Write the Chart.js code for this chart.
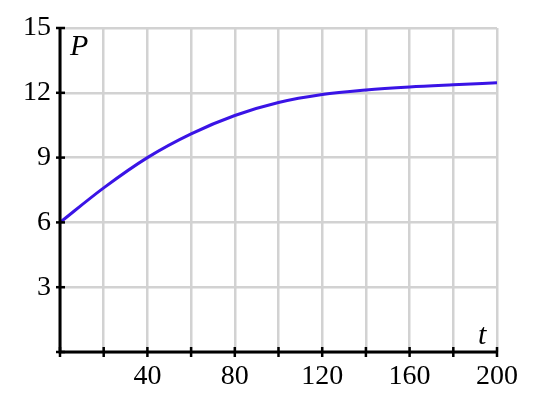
<!DOCTYPE html>
<html>
<head>
<meta charset="utf-8">
<script src="https://cdn.jsdelivr.net/npm/chart.js@4/dist/chart.umd.min.js"></script>
<style>
  html, body { margin: 0; padding: 0; background: #fff; }
  #wrap { width: 534px; height: 400px; }
</style>
</head>
<body>
<div id="wrap"><canvas id="chart1"></canvas></div>
<script>
// values
const tValues = [0, 20, 40, 60, 80, 100, 120, 140, 160, 180, 200];
const pValues = [6.0, 7.6, 9.0, 10.1, 10.95, 11.55, 11.92, 12.13, 12.27, 12.37, 12.46];
const xTickLabels = [40, 80, 120, 160, 200];
const yTickLabels = [3, 6, 9, 12, 15];

const serif = '"Liberation Serif", "DejaVu Serif", serif';

// small black ticks that cross both axes, plus the P and t labels
const axisMarks = {
    id: 'axisMarks',
    afterDraw(chart) {
        const ctx = chart.ctx;
        const xs = chart.scales.x, ys = chart.scales.y;
        const x0 = xs.getPixelForValue(0), y0 = ys.getPixelForValue(0);
        ctx.save();
        ctx.strokeStyle = '#000';
        ctx.lineWidth = 3;
        ctx.beginPath();
        ctx.moveTo(x0, ys.getPixelForValue(15));
        ctx.lineTo(x0, y0);
        ctx.lineTo(xs.getPixelForValue(200), y0);
        ctx.stroke();
        ctx.lineWidth = 2.5;
        xs.ticks.forEach((t) => {
            const px = xs.getPixelForValue(t.value);
            ctx.beginPath();
            ctx.moveTo(px, y0 - 5);
            ctx.lineTo(px, y0 + 5);
            ctx.stroke();
        });
        ys.ticks.forEach((t) => {
            const py = ys.getPixelForValue(t.value);
            ctx.beginPath();
            ctx.moveTo(x0 - 4, py);
            ctx.lineTo(x0 + 5, py);
            ctx.stroke();
        });
        ctx.fillStyle = '#000';
        ctx.font = 'italic 30px ' + serif;
        ctx.textBaseline = 'alphabetic';
        ctx.fillText('P', x0 + 10, ys.getPixelForValue(15) + 27);
        ctx.fillText('t', xs.getPixelForValue(200) - 19, y0 - 8);
        ctx.restore();
    }
};

const ctx1 = document.getElementById('chart1').getContext('2d');
const chart1 = new Chart(ctx1, {
    type: 'line',
    data: {
        labels: tValues,
        datasets: [
            {
                data: tValues.map((t, i) => ({x: t, y: pValues[i]})),
                borderColor: '#3a14e6',
                borderWidth: 3,
                pointRadius: 0,
                cubicInterpolationMode: 'monotone',
                fill: false
            }
        ]
    },
    options: {
        responsive: true,
        maintainAspectRatio: false,
        animation: false,
        layout: { padding: { left: 0, right: 37, top: 28, bottom: 0 } },
        plugins: { legend: { display: false }, tooltip: { enabled: false } },
        scales: {
            x: {
                type: 'linear',
                min: 0, max: 200,
                afterFit(scale) { scale.height = 48; },
                border: { display: false },
                grid: { color: '#d2d2d2', lineWidth: 2.5, drawTicks: false },
                ticks: {
                    stepSize: 20,
                    padding: 8,
                    maxRotation: 0,
                    autoSkip: false,
                    color: '#000',
                    font: { family: serif, size: 28 },
                    callback: (v) => xTickLabels.includes(v) ? String(v) : ''
                }
            },
            y: {
                min: 0, max: 15,
                afterFit(scale) { scale.width = 60; },
                border: { display: false },
                grid: { color: '#d2d2d2', lineWidth: 2.5, drawTicks: false },
                ticks: {
                    stepSize: 3,
                    padding: 9,
                    color: '#000',
                    font: { family: serif, size: 28 },
                    callback: (v) => yTickLabels.includes(v) ? String(v) : ''
                }
            }
        }
    },
    plugins: [axisMarks]
});
</script>
</body>
</html>
